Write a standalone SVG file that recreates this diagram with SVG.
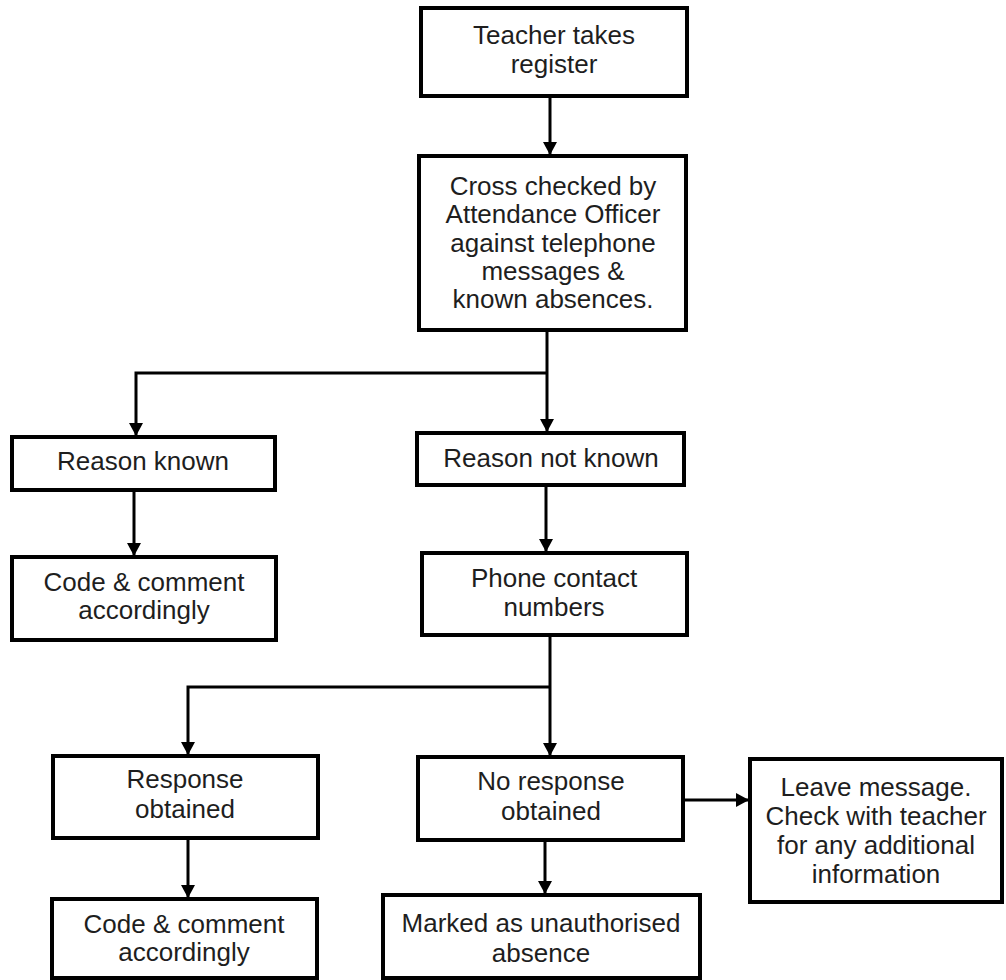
<svg xmlns="http://www.w3.org/2000/svg" width="1006" height="980" viewBox="0 0 1006 980">
<style>
.box{fill:#ffffff;stroke:#000000;stroke-width:4}
.t{font-family:"Liberation Sans",Arial,sans-serif;font-size:26px;fill:#1e1e1e;text-anchor:middle}
.c{fill:none;stroke:#000000;stroke-width:3}
</style>
<defs>
<marker id="ah" markerUnits="userSpaceOnUse" markerWidth="14" markerHeight="14" viewBox="0 0 14 14" refX="13" refY="7" orient="auto">
<path d="M0,0 L13,7 L0,14 Z" fill="#000000"/>
</marker>
</defs>
<rect width="1006" height="980" fill="#ffffff"/>
<g id="connectors">
<line class="c" x1="550" y1="96" x2="550" y2="155" marker-end="url(#ah)"/>
<line class="c" x1="547" y1="330" x2="547" y2="432" marker-end="url(#ah)"/>
<polyline class="c" points="547,373 136,373 136,436" marker-end="url(#ah)"/>
<line class="c" x1="134" y1="490" x2="134" y2="556" marker-end="url(#ah)"/>
<line class="c" x1="546" y1="485" x2="546" y2="552" marker-end="url(#ah)"/>
<line class="c" x1="550" y1="635" x2="550" y2="756" marker-end="url(#ah)"/>
<polyline class="c" points="550,687 188,687 188,755" marker-end="url(#ah)"/>
<line class="c" x1="188" y1="838" x2="188" y2="898" marker-end="url(#ah)"/>
<line class="c" x1="545" y1="840" x2="545" y2="894" marker-end="url(#ah)"/>
<line class="c" x1="683" y1="800" x2="749" y2="800" marker-end="url(#ah)"/>
</g>
<g id="teacher">
<rect class="box" x="421" y="8" width="266" height="88"/>
<text class="t" x="554" y="44">Teacher takes</text>
<text class="t" x="554" y="73">register</text>
</g>
<g id="crosscheck">
<rect class="box" x="419" y="156" width="267" height="174"/>
<text class="t" x="553" y="195">Cross checked by</text>
<text class="t" x="553" y="223">Attendance Officer</text>
<text class="t" x="553" y="252">against telephone</text>
<text class="t" x="553" y="280">messages &amp;</text>
<text class="t" x="553" y="308">known absences.</text>
</g>
<g id="reasonknown">
<rect class="box" x="12" y="437" width="263" height="53"/>
<text class="t" x="143" y="470">Reason known</text>
</g>
<g id="reasonnotknown">
<rect class="box" x="417" y="433" width="267" height="52"/>
<text class="t" x="551" y="467">Reason not known</text>
</g>
<g id="code1">
<rect class="box" x="12" y="557" width="264" height="83"/>
<text class="t" x="144" y="591">Code &amp; comment</text>
<text class="t" x="144" y="619">accordingly</text>
</g>
<g id="phone">
<rect class="box" x="422" y="553" width="265" height="82"/>
<text class="t" x="554" y="587">Phone contact</text>
<text class="t" x="554" y="616">numbers</text>
</g>
<g id="response">
<rect class="box" x="53" y="756" width="265" height="82"/>
<text class="t" x="185" y="788">Response</text>
<text class="t" x="185" y="818">obtained</text>
</g>
<g id="noresponse">
<rect class="box" x="418" y="757" width="265" height="83"/>
<text class="t" x="551" y="790">No response</text>
<text class="t" x="551" y="820">obtained</text>
</g>
<g id="leavemessage">
<rect class="box" x="750" y="759" width="252" height="143"/>
<text class="t" x="876" y="796">Leave message.</text>
<text class="t" x="876" y="825">Check with teacher</text>
<text class="t" x="876" y="854">for any additional</text>
<text class="t" x="876" y="883">information</text>
</g>
<g id="code2">
<rect class="box" x="52" y="899" width="265" height="79"/>
<text class="t" x="184" y="933">Code &amp; comment</text>
<text class="t" x="184" y="961">accordingly</text>
</g>
<g id="marked">
<rect class="box" x="383" y="895" width="317" height="83"/>
<text class="t" x="541" y="932">Marked as unauthorised</text>
<text class="t" x="541" y="962">absence</text>
</g>
</svg>
